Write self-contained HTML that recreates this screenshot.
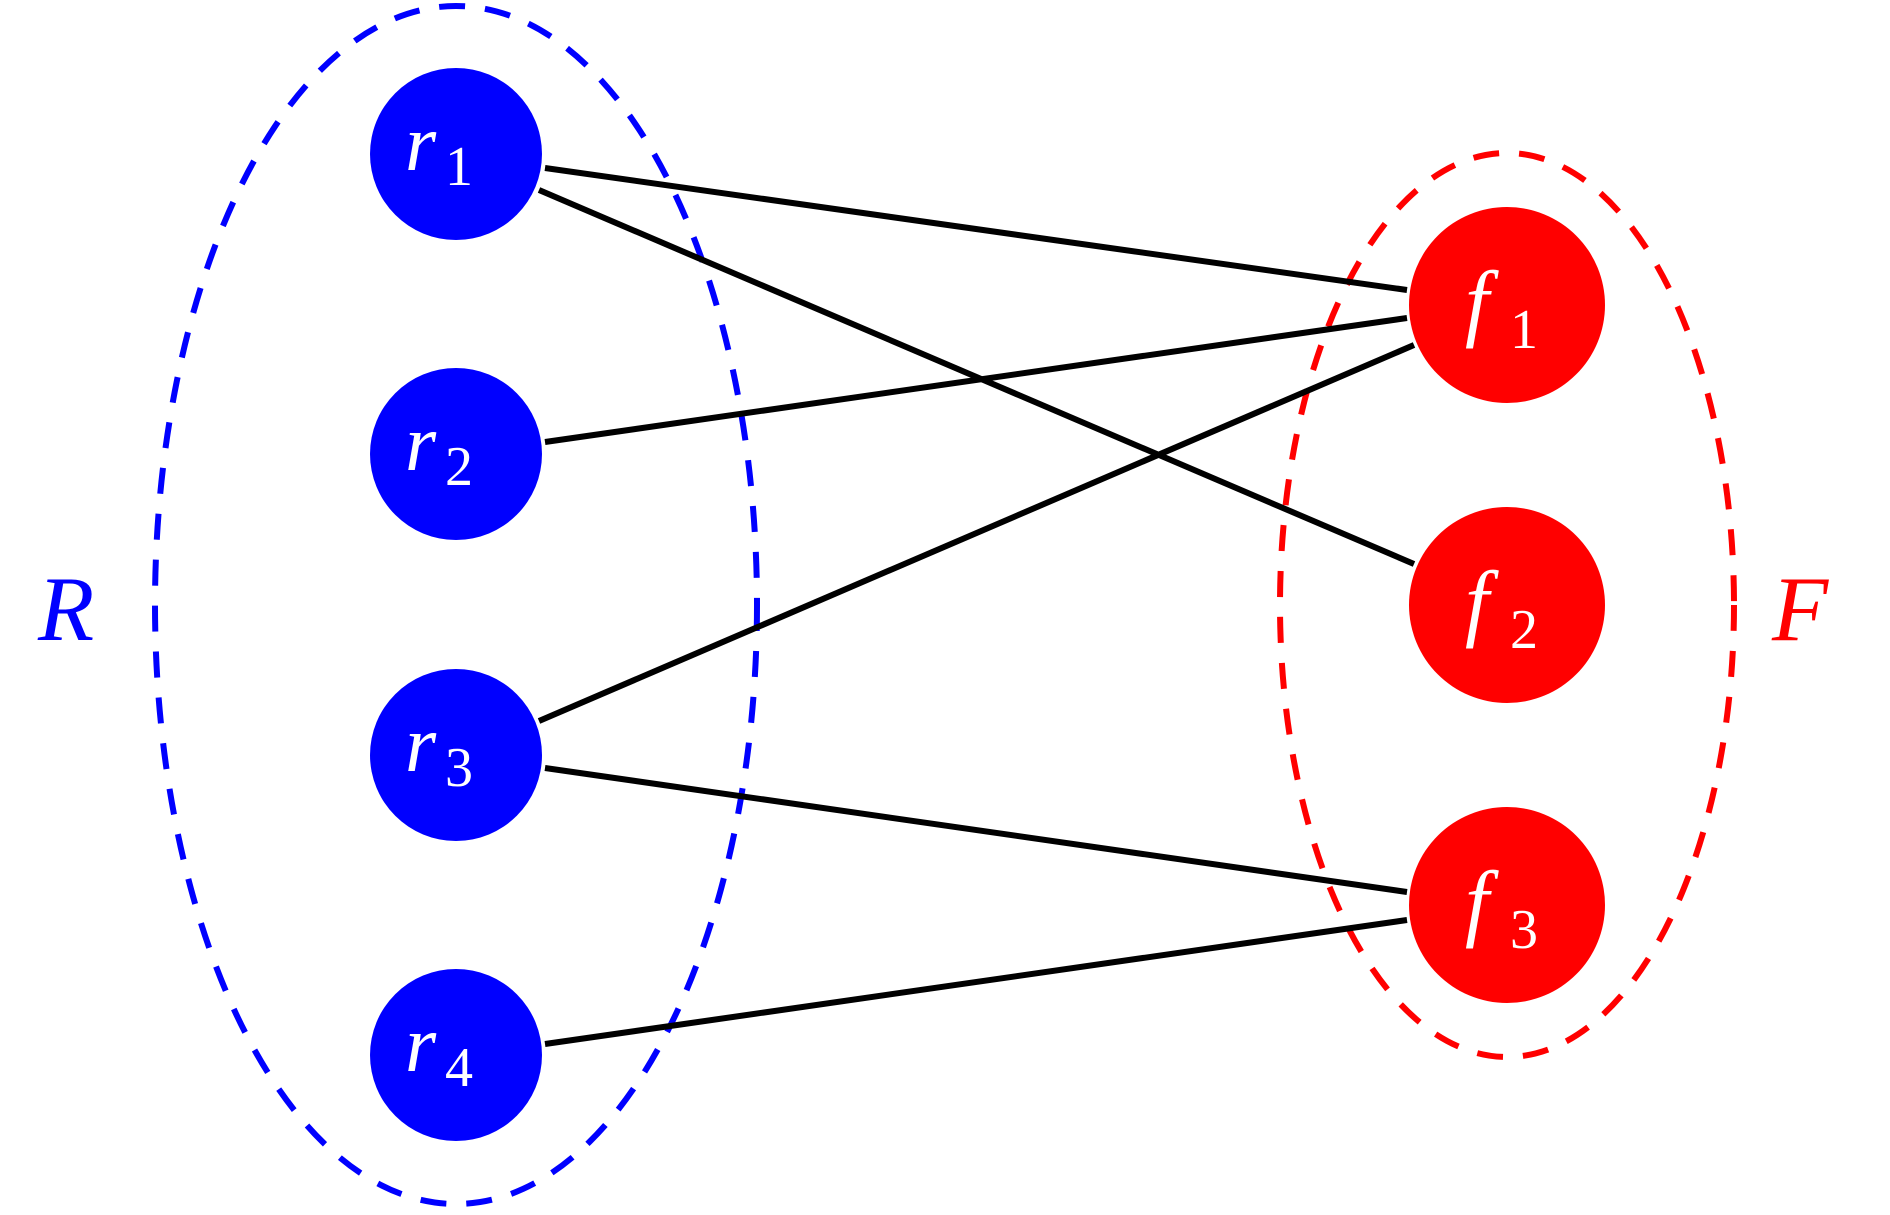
<!DOCTYPE html>
<html><head><meta charset="utf-8"><style>
html,body{margin:0;padding:0;background:#fff;}
svg text{font-family:"Liberation Serif",serif;}
</style></head><body>
<svg width="1890" height="1210" viewBox="0 0 1890 1210" xmlns="http://www.w3.org/2000/svg">
<ellipse cx="456" cy="605" rx="301" ry="599" fill="none" stroke="#0000ff" stroke-width="6" stroke-dasharray="26,20"/>
<ellipse cx="1507" cy="605" rx="227" ry="452" fill="none" stroke="#ff0000" stroke-width="6" stroke-dasharray="26,20"/>
<g stroke="#000" stroke-width="6">
<line x1="545" y1="168" x2="1407" y2="290"/>
<line x1="539" y1="190" x2="1414" y2="564"/>
<line x1="545" y1="442" x2="1407" y2="318"/>
<line x1="539" y1="721" x2="1414" y2="345"/>
<line x1="545" y1="768" x2="1407" y2="892"/>
<line x1="545" y1="1044" x2="1407" y2="920"/>
</g>
<g fill="#0000ff">
<circle cx="456" cy="154" r="86"/><circle cx="456" cy="454" r="86"/>
<circle cx="456" cy="755" r="86"/><circle cx="456" cy="1055" r="86"/>
</g>
<g fill="#ff0000">
<circle cx="1507" cy="305" r="98"/><circle cx="1507" cy="605" r="98"/><circle cx="1507" cy="905" r="98"/>
</g>
<g fill="#fff">
<text x="405" y="170" font-size="80" font-style="italic">r</text><text x="445" y="185" font-size="56">1</text>
<text x="405" y="470" font-size="80" font-style="italic">r</text><text x="445" y="485" font-size="56">2</text>
<text x="405" y="771" font-size="80" font-style="italic">r</text><text x="445" y="786" font-size="56">3</text>
<text x="405" y="1071" font-size="80" font-style="italic">r</text><text x="445" y="1086" font-size="56">4</text>
<text x="1465" y="330" font-size="86" font-style="italic">f</text><text x="1510" y="348" font-size="56">1</text>
<text x="1465" y="630" font-size="86" font-style="italic">f</text><text x="1510" y="648" font-size="56">2</text>
<text x="1465" y="930" font-size="86" font-style="italic">f</text><text x="1510" y="948" font-size="56">3</text>
</g>
<text x="38" y="640" font-size="92" font-style="italic" fill="#0000ff">R</text>
<text x="1772" y="640" font-size="92" font-style="italic" fill="#ff0000">F</text>
</svg>
</body></html>
